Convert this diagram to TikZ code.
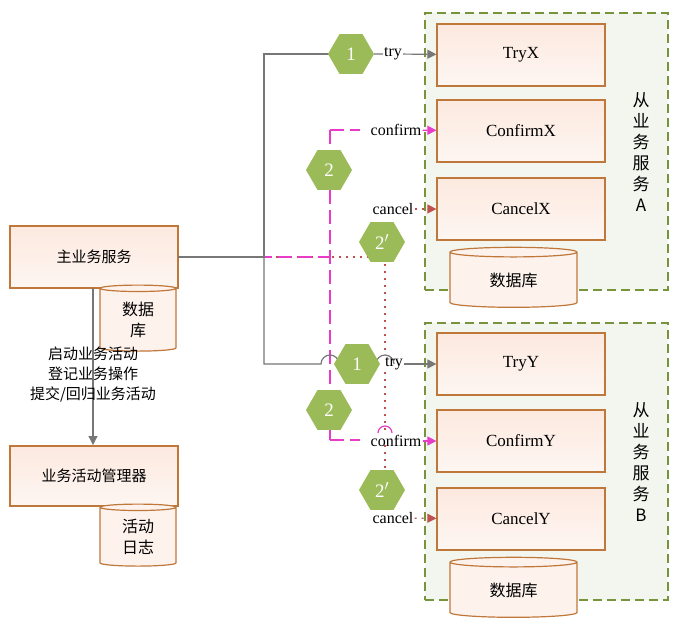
\documentclass[tikz,border=0pt]{standalone}
\usepackage{fontspec}
\setmainfont{Liberation Serif}
\newfontfamily\cjk{Noto Sans CJK SC}
\usetikzlibrary{shapes.geometric,arrows.meta}
\definecolor{boxb}{HTML}{C0773A}
\definecolor{boxf}{HTML}{FCE9DF}
\definecolor{hexf}{HTML}{9BBB59}
\definecolor{grpb}{HTML}{77933C}
\definecolor{grpf}{HTML}{F3F6EF}
\definecolor{pinkc}{HTML}{E83CC8}
\definecolor{redc}{HTML}{C0504D}
\definecolor{grayc}{HTML}{777777}
\begin{document}
\begin{tikzpicture}[x=1pt,y=-1pt,
 box/.style={draw=boxb,line width=1.2pt,top color=boxf,bottom color=white!60!boxf,minimum width=168pt,minimum height=62pt,inner sep=0pt,font=\cjk\fontsize{15}{18}\selectfont},
 sbox/.style={box,minimum width=168pt,minimum height=62pt,font=\fontsize{17}{19}\selectfont},
 db/.style={cylinder,shape border rotate=90,aspect=0.2,draw=boxb,line width=1.2pt,fill=boxf!60,inner sep=0pt,align=center,font=\cjk\fontsize{16}{21}\selectfont},
 hex/.style={regular polygon,regular polygon sides=6,shape border rotate=0,minimum size=46pt,inner sep=0pt,fill=hexf,text=white,font=\fontsize{19}{19}\selectfont},
 grp/.style={draw=grpb,dash pattern=on 9pt off 5pt,line width=1.2pt,fill=grpf},
 lbl/.style={font=\fontsize{16}{18}\selectfont,inner sep=1pt,fill=white},
 garr/.style={draw=grayc,line width=1.2pt,-{Triangle[length=9pt,width=9pt]}},
 parr/.style={draw=pinkc,line width=1.2pt,dash pattern=on 14pt off 6pt,-{Triangle[length=9pt,width=9pt]}},
 rarr/.style={draw=redc,line width=1.2pt,dash pattern=on 2pt off 5pt,-{Triangle[length=9pt,width=9pt]}}]
\useasboundingbox (0,0) rectangle (688,630);
% groups
\node[grp,minimum width=243pt,minimum height=277pt,inner sep=0pt] (ga) at (546.5,151.5) {};
\node[grp,minimum width=243pt,minimum height=277pt,inner sep=0pt] (gb) at (546.5,461.5) {};
\node[align=center,font=\cjk\fontsize{17}{21}\selectfont] (la) at (641,152) {从\\业\\务\\服\\务\\A};
\node[align=center,font=\cjk\fontsize{17}{21}\selectfont] (lb) at (641,462) {从\\业\\务\\服\\务\\B};
% service boxes
\node[sbox] (tx) at (521,55) {TryX};
\node[sbox] (cx) at (521,131) {ConfirmX};
\node[sbox] (kx) at (521,209) {CancelX};
\node[db,minimum width=127pt,minimum height=60pt] (dba) at (513.5,280) {数据库};
\node[sbox] (ty) at (521,364) {TryY};
\node[sbox] (cy) at (521,441) {ConfirmY};
\node[sbox] (ky) at (521,519) {CancelY};
\node[db,minimum width=127pt,minimum height=60pt] (dbb) at (513.5,590) {数据库};
% left
\node[box] (main) at (94,257) {主业务服务};
\node[db,minimum width=76pt,minimum height=66pt] (db1) at (138,320) {数据\\库};
\node[box,minimum height=60pt] (mgr) at (94,476) {业务活动管理器};
\node[db,minimum width=76pt,minimum height=62pt] (db2) at (138,537) {活动\\日志};
\coordinate (m1) at (93,288);
\coordinate (m2) at (93,445);
\draw[garr] (m1) -- (m2);
\node[align=center,font=\cjk\fontsize{15}{20}\selectfont,inner sep=0pt] (ops) at (93,375) {启动业务活动\\登记业务操作\\提交/回归业务活动};
% lines
\coordinate (j) at (178,257);
\draw[redc,line width=1.2pt,dash pattern=on 2pt off 5pt] (j) -- (385,257);
\draw[redc,line width=1.2pt,dash pattern=on 2pt off 5pt] (385,222) -- (385,355);
\draw[redc,line width=1.2pt,dash pattern=on 2pt off 5pt] (385,372) -- (385,432);
\draw[redc,line width=1.2pt,dash pattern=on 2pt off 5pt] (385,445) -- (385,505);
\draw[pinkc,line width=1.2pt,dash pattern=on 14pt off 6pt] (j) -- (330,257);
\draw[pinkc,line width=1.2pt,dash pattern=on 14pt off 6pt] (330,130) -- (330,440);
\draw[pinkc,line width=1.2pt,dash pattern=on 14pt off 6pt] (330,130) -- (360,130);
\draw[pinkc,line width=1.2pt,dash pattern=on 14pt off 6pt] (330,440) -- (360,440);
% gray tree
\draw[grayc,line width=1.2pt] (j) -- (264,257) -- (264,54) -- (340,54);
\draw[grayc,line width=1.2pt] (264,257) -- (264,364) -- (321,364) arc (180:360:9) -- (350,364);
\draw[grayc,line width=1.2pt] (376,364) arc (180:360:9);
% hexagons
\node[hex] (h1a) at (351,54) {1};
\node[hex] (h1b) at (357,364) {1};
\node[hex] (h2a) at (329,170) {2};
\node[hex] (h2b) at (329,410) {2};
\node[hex] (h3a) at (382,242) {2$'$};
\node[hex] (h3b) at (382,490) {2$'$};
% labels
\node[lbl] (try1) at (393,54) {try};
\node[lbl,fill=none] (try2) at (394,364) {try};
\node[lbl] (cf1) at (396,130) {confirm};
\node[lbl,fill=none] (cf2) at (396,441) {confirm};
\draw[pinkc,line width=1.2pt] (378,433) arc (180:360:7);
\node[lbl] (cn1) at (393,209) {cancel};
\node[lbl] (cn2) at (393,518) {cancel};
\draw[grayc,line width=1.2pt] (h1a) -- (try1);
\draw[garr] (try1) -- (tx);
\draw[garr] (try2) -- (ty);
\draw[parr] (cf1) -- (cx);
\draw[parr] (cf2) -- (cy);
\draw[rarr] (cn1) -- (kx);
\draw[rarr] (cn2) -- (ky);
\end{tikzpicture}
\end{document}
